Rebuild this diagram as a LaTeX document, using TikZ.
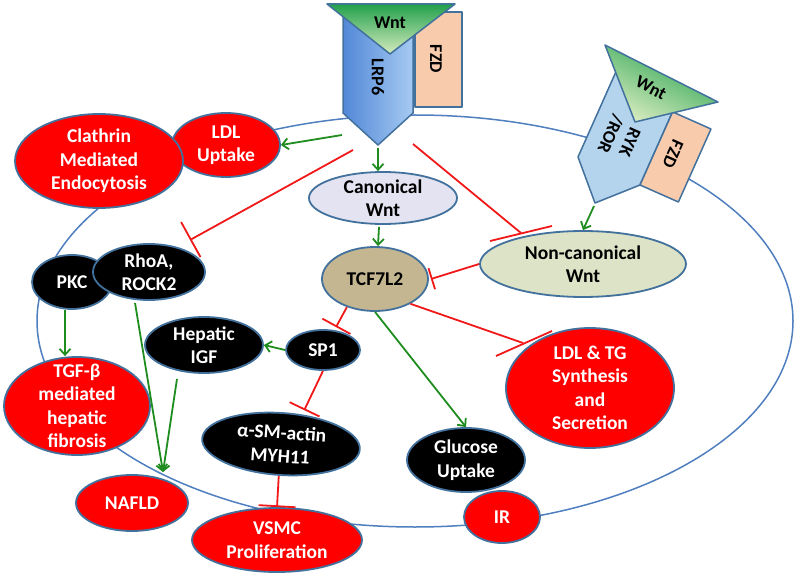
\documentclass[tikz,border=0pt]{standalone}
\usepackage{fontspec}
\setmainfont{Carlito}
\usetikzlibrary{shapes.geometric,arrows.meta,calc}
\definecolor{nodeborder}{HTML}{41719C}
\definecolor{cellline}{HTML}{4F7FBF}
\definecolor{actgreen}{HTML}{1E8C1E}
\definecolor{inhred}{HTML}{F01818}
\definecolor{lrpdark}{HTML}{5288D8}
\definecolor{lrplight}{HTML}{A6CAF2}
\definecolor{fzdfill}{HTML}{F8CBAD}
\definecolor{rykfill}{HTML}{B4D3EC}
\definecolor{wntdark}{HTML}{22A04C}
\definecolor{wntlight}{HTML}{D6EBBE}
\definecolor{canonfill}{HTML}{E4E3F2}
\definecolor{noncanonfill}{HTML}{DCE3C6}
\definecolor{tcffill}{HTML}{C3B690}
\begin{document}
\begin{tikzpicture}[x=1pt,y=-1pt,
  ov/.style={ellipse,draw=nodeborder,line width=1.8pt,inner sep=0pt},
  redov/.style={ov,fill=red},
  blkov/.style={ov,fill=black},
  wtxt/.style={align=center,text=white,font=\bfseries\fontsize{19.5}{23.5}\selectfont,inner sep=0pt},
  ktxt/.style={align=center,text=black,font=\bfseries\fontsize{19.5}{23.5}\selectfont,inner sep=0pt},
  rtxt/.style={align=center,text=black,font=\bfseries\fontsize{18}{21}\selectfont,inner sep=0pt},
  recline/.style={draw=nodeborder,line width=1.5pt,line join=round},
  act/.style={draw=actgreen,line width=1.8pt,-{Straight Barb[length=6pt,width=11pt]}},
  inh/.style={draw=inhred,line width=1.8pt,-{Bar[width=#1]}},
  inhline/.style={draw=inhred,line width=1.8pt},
]
\useasboundingbox (0,0) rectangle (800,585);
% cell outline
\draw[draw=cellline,line width=1.5pt] (415,321) ellipse [x radius=378, y radius=206];

% left receptor
\draw[recline,fill=fzdfill] (415,12) rectangle (462,107);
\draw[recline,left color=lrpdark,right color=lrplight] (343,15) -- (413,15) -- (413,113) -- (378,145) -- (343,113) -- cycle;
\draw[recline,top color=wntdark,bottom color=wntlight] (327,4) -- (455,4) -- (390,54) -- cycle;
\node[rtxt,rotate=-90] (lrp6txt) at (378,77) {LRP6};
\node[rtxt,rotate=-90] (fzdtxtA) at (436,59) {FZD};
\node[rtxt] (wnttxtA) at (390,23) {Wnt};

% right receptor
\draw[recline,fill=rykfill] (578,157) -- (595,203) -- (640,185) -- (680.7,93.6) -- (618.7,65.6) -- cycle;
\draw[recline,fill=fzdfill] (640,185) -- (672.6,111.9) -- (711,129) -- (678.4,202) -- cycle;
\draw[recline,shading=axis,top color=wntdark,bottom color=wntlight,shading angle=-27] (605,45) -- (718,102) -- (635,122) -- cycle;
\node[rtxt,rotate=-114] (ryktxt) at (620,138) {RYK\\/ROR};
\node[rtxt,rotate=-114] (fzdtxtB) at (673,154) {FZD};
\node[rtxt,rotate=-27] (wnttxtB) at (651,88) {Wnt};

% nodes
\node[redov,minimum width=108pt,minimum height=64pt,label={[wtxt]center:{LDL\\Uptake}}] (ldlup) at (226,145) {};
\node[redov,minimum width=168pt,minimum height=94pt,label={[wtxt]center:{Clathrin\\Mediated\\Endocytosis}}] (clathrin) at (99,161) {};
\node[blkov,minimum width=80pt,minimum height=54pt,label={[wtxt]center:{PKC}}] (pkc) at (72,282) {};
\node[blkov,minimum width=112pt,minimum height=56pt,label={[wtxt]center:{RhoA,\\ROCK2}}] (rhoa) at (149,272) {};
\node[redov,minimum width=146pt,minimum height=98pt,label={[wtxt]center:{TGF-β\\mediated\\hepatic\\fibrosis}}] (tgf) at (77,406) {};
\node[blkov,minimum width=118pt,minimum height=56pt,label={[wtxt]center:{Hepatic\\IGF}}] (igf) at (204,345) {};
\node[redov,minimum width=112pt,minimum height=56pt,label={[wtxt]center:{NAFLD}}] (nafld) at (132,503) {};
\node[redov,minimum width=170pt,minimum height=64pt,label={[wtxt]center:{VSMC\\Proliferation}}] (vsmc) at (277,540) {};
\node[blkov,rotate=-4,minimum width=158pt,minimum height=62pt,label={[wtxt,rotate=-4]center:{α-SM-actin\\MYH11}}] (actin) at (281,444) {};
\node[blkov,minimum width=118pt,minimum height=64pt,label={[wtxt]center:{Glucose\\Uptake}}] (glucose) at (466,460) {};
\node[redov,minimum width=76pt,minimum height=52pt,label={[wtxt]center:{IR}}] (ir) at (502,517) {};
\node[blkov,minimum width=74pt,minimum height=40pt,label={[wtxt]center:{SP1}}] (sp1) at (323,350) {};
\node[ov,fill=tcffill,minimum width=106pt,minimum height=64pt,label={[ktxt]center:{TCF7L2}}] (tcf) at (375,279) {};
\node[ov,fill=canonfill,minimum width=148pt,minimum height=52pt,label={[ktxt]center:{Canonical\\Wnt}}] (canon) at (383,198) {};
\node[ov,fill=noncanonfill,minimum width=206pt,minimum height=66pt,label={[ktxt]center:{Non-canonical\\Wnt}}] (noncanon) at (583,264) {};
\node[redov,minimum width=168pt,minimum height=120pt,label={[wtxt]center:{LDL \& TG\\Synthesis\\and\\Secretion}}] (ldltg) at (590,388) {};

% connector end points
\coordinate (lrpA) at (342,135);
\coordinate (lrpB) at (353,150);
\coordinate (lrpC) at (413,144);
\coordinate (lrptip) at (378,148);
\coordinate (ryktip) at (594,206);
\coordinate (rhoaIn) at (190,240);
\coordinate (ncIn) at (521,233);
\coordinate (ldlIn) at (523,343);
\coordinate (meet) at (163,472);

% activations
\draw[act] (lrpA) -- (ldlup.east);
\draw[act] (lrptip) -- (lrptip |- canon.north);
\draw[act] ($(canon.south)+(-4,2)$) -- ($(tcf.north)+(3,0)$);
\draw[act] (ryktip) -- (noncanon.north);
\draw[act] ($(pkc.south)+(-7,0)$) -- ($(tgf.north)+(-12,0)$);
\draw[act] ($(rhoa.south)+(-14,2)$) -- (meet);
\draw[act] ($(igf.south)+(-27,5)$) -- (meet);
\draw[act] (sp1.west) -- (igf.east);
\draw[act] (tcf.south) -- (glucose.north);

% inhibitions
\draw[inh=40pt] (lrpB) -- (rhoaIn);
\draw[inhline] (lrpC) -- (ncIn);
\draw[inhline] ($(ncIn)+(-31,8)$) -- ($(ncIn)+(31,-7)$);
\draw[inh=22pt] (noncanon.west) -- ($(tcf.east)+(2,0)$);
\draw[inhline] (tcf.-35) -- (ldlIn);
\draw[inhline] ($(ldlIn)+(-27,13)$) -- ($(ldlIn)+(29,-12)$);
\draw[inh=32pt] (tcf.-135) -- ($(sp1.north)+(13,-2)$);
\draw[inh=33pt] (sp1.south) -- ($(actin.north)+(21,-2)$);
\draw[inh=37pt] (actin.south) -- (vsmc.north);
\end{tikzpicture}
\end{document}
